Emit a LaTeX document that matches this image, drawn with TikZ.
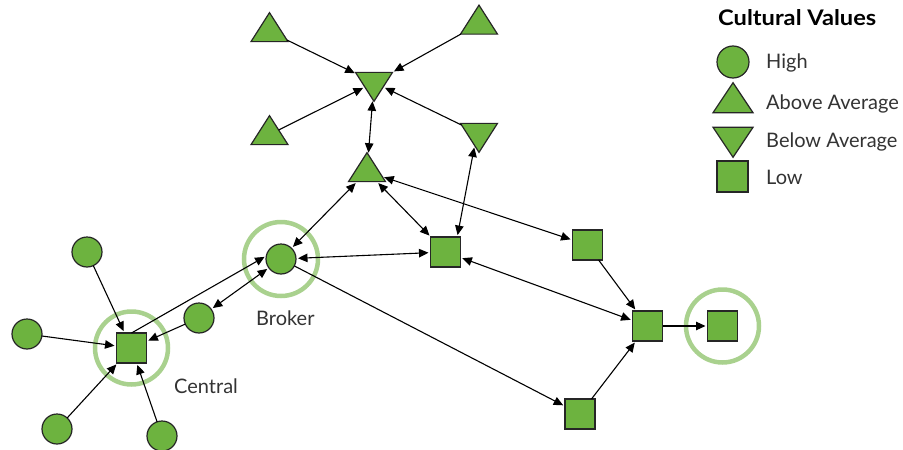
\documentclass[tikz,border=0pt]{standalone}
\usepackage{fontspec}
\usepackage{graphicx}
\setmainfont{Lato}
\usetikzlibrary{shapes.geometric,arrows.meta,backgrounds}
\definecolor{nodegreen}{HTML}{6DB33F}
\definecolor{ringgreen}{HTML}{A9D18E}
\definecolor{inkgray}{HTML}{262626}
\definecolor{textgray}{HTML}{333333}

\tikzset{
  base/.style={draw=inkgray, fill=nodegreen, line width=1.2pt, inner sep=0pt, outer sep=0pt},
  hi/.style={base, circle, minimum size=30pt},
  lo/.style={base, rectangle, minimum size=30pt},
  tri/.style={base, isosceles triangle, isosceles triangle stretches,
    minimum height=29pt, minimum width=37pt},
  upt/.style={tri, shape border rotate=90},
  dnt/.style={tri, shape border rotate=-90},
  tip/.tip={Triangle[length=9.5pt,width=8.5pt]},
  link/.style={line width=1.1pt, black, -tip, shorten >=2pt},
  twoway/.style={line width=1.1pt, black, tip-tip, shorten >=2pt, shorten <=2pt},
  ring/.style={draw=ringgreen, line width=4.5pt},
  lbl/.style={font=\fontsize{20}{24}\selectfont, text=textgray, inner sep=0pt},
}

\begin{document}
\begin{tikzpicture}[x=1pt,y=-1pt]
\useasboundingbox (0,0) rectangle (903,450);

% triangles (above / below average)
\node[upt] (t1) at (269.5,31.5) {};
\node[upt] (t2) at (479,24) {};
\node[dnt] (d1) at (374,82.5) {};
\node[upt] (t3) at (269.5,134.5) {};
\node[dnt] (d2) at (479,133.5) {};
\node[upt] (t4) at (367,171.5) {};

% squares (low)
\node[lo] (s1) at (445.5,252) {};
\node[lo] (s2) at (587.5,245) {};
\node[lo] (s3) at (647.5,326) {};
\node[lo] (s4) at (722.5,326) {};
\node[lo] (s5) at (580,414) {};
\node[lo] (central) at (131.5,348) {};

% circles (high)
\node[hi] (ctop) at (87,252) {};
\node[hi] (cleft) at (27,334) {};
\node[hi] (cbl) at (57,429) {};
\node[hi] (cbot) at (162,436) {};
\node[hi] (cmid) at (199,318) {};
\node[hi] (broker) at (281,259) {};

% highlight rings
\begin{scope}[on background layer]
  \draw[ring] (central) circle (36.5pt);
  \draw[ring] (broker) circle (37pt);
  \draw[ring] (s4) circle (36.5pt);
\end{scope}

% connectors
\draw[link] (t1) -- (d1);
\draw[link] (t2) -- (d1);
\draw[link] (t3) -- (d1);
\draw[link] (d2) -- (d1);
\draw[twoway] (d1) -- (t4);
\draw[twoway] (s1.52) -- (d2.250);
\draw[twoway] (t4) -- (s1);
\draw[twoway] (t4) -- (s2);
\draw[twoway] (broker) -- (t4);
\draw[twoway] (broker) -- (s1);
\draw[link] (broker) -- (s5);
\draw[twoway] (s1) -- (s3);
\draw[link] (s2) -- (s3);
\draw[link] (s5) -- (s3);
\draw[link] (s3) -- (s4);
\draw[link] (central.north) -- (broker.168);
\draw[twoway] (cmid) -- (broker);
\draw[link] (cmid) -- (central);
\draw[link] (ctop) -- (central);
\draw[link] (cleft) -- (central);
\draw[link] (cbl) -- (central);
\draw[link] (cbot) -- (central);

% labels
\node[lbl, anchor=base west] (brokerlbl) at (256,325) {Broker};
\node[lbl, anchor=base west] (centrallbl) at (174,393) {Central};

% legend
\node[anchor=base west, inner sep=0pt, font=\bfseries\fontsize{21.5}{25}\selectfont] (title) at (718,25) {\scalebox{1.1}[1]{Cultural Values}};
\node[base, circle, minimum size=32pt] (lhigh) at (733,62) {};
\node[base, isosceles triangle, isosceles triangle stretches, minimum height=30pt, minimum width=40pt, shape border rotate=90] (labove) at (733,102) {};
\node[base, isosceles triangle, isosceles triangle stretches, minimum height=30pt, minimum width=40pt, shape border rotate=-90] (lbelow) at (733,138) {};
\node[base, rectangle, minimum size=31pt] (llow) at (732.5,176.5) {};
\node[lbl, anchor=base west] (thigh) at (766,68) {High};
\node[lbl, anchor=base west] (tabove) at (766,109) {Above Average};
\node[lbl, anchor=base west] (tbelow) at (766,147) {Below Average};
\node[lbl, anchor=base west] (tlow) at (766,184) {Low};
\end{tikzpicture}
\end{document}
